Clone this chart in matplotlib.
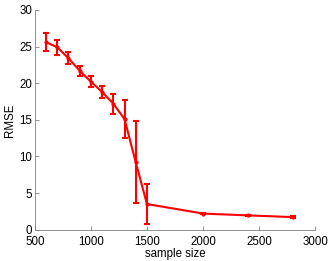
import numpy as np
import matplotlib
matplotlib.use("Agg")
import matplotlib.pyplot as plt

plt.rcParams['font.family'] = ['Liberation Sans', 'DejaVu Sans']

sample_size = [600, 700, 800, 900, 1000, 1100, 1200, 1300, 1400, 1500, 2000, 2400, 2800]
rmse = [25.6, 24.9, 23.4, 21.7, 20.2, 18.8, 17.2, 15.1, 9.2, 3.5, 2.2, 1.95, 1.72]
rmse_err = [1.2, 1.0, 0.85, 0.7, 0.75, 0.85, 1.35, 2.6, 5.6, 2.75, 0.1, 0.08, 0.08]

fig = plt.figure(figsize=(3.32, 2.61), dpi=100)
ax = fig.add_axes([0.105, 0.12, 0.844, 0.842])

ax.errorbar(sample_size, rmse, yerr=rmse_err, color='#ff0000', lw=1.5,
            elinewidth=1.5, capsize=2.5, capthick=1.5, marker='.', ms=4)

ax.set_xlim(500, 3000)
ax.set_ylim(0, 30)
ax.set_xticks([500, 1000, 1500, 2000, 2500, 3000])
ax.set_yticks([0, 5, 10, 15, 20, 25, 30])
ax.tick_params(direction='in', length=3, width=0.6, labelsize=8.3, colors='#808080', labelcolor='black')
ax.tick_params(axis='x', pad=4.5)
ax.tick_params(axis='y', pad=2)
for s in ['top', 'right']:
    ax.spines[s].set_visible(False)
for s in ['left', 'bottom']:
    ax.spines[s].set_color('#808080')
    ax.spines[s].set_linewidth(0.6)

ax.set_xlabel('sample size', fontsize=8.3, labelpad=0.3)
ax.set_ylabel('RMSE', fontsize=8.3, labelpad=2)

fig.savefig('out.png', dpi=100)
